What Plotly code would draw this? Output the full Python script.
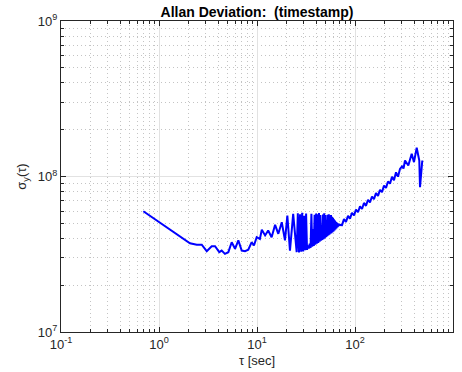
import plotly.graph_objects as go

# Averaging time tau [s]
tau = [
    0.692, 1.0, 1.4, 1.75, 2.07,
    2.43, 2.73, 3.07, 3.45, 3.73, 4.12, 4.36, 4.71, 5.10, 5.52, 5.97, 6.45, 6.98,
    7.55, 8.15, 8.83, 9.31, 9.93, 10.7, 11.2, 12.1, 13.0, 14.1, 15.3, 16.5, 17.9,
    19.3, 20.4, 21.7, 23.4, 25.4,
    26.1, 26.8, 27.5, 28.2, 28.9, 29.6, 30.3, 31.0, 31.7, 32.4, 33.1, 33.8, 34.5,
    35.2, 35.9, 36.6, 37.3, 38.0, 38.7, 39.4, 40.1, 40.8, 41.5, 42.2, 42.9, 43.6,
    44.3, 45.0, 45.7, 46.4, 47.1, 47.8, 48.5, 49.2, 49.9, 50.6, 51.3, 52.0, 52.7,
    53.4, 54.1, 54.8, 55.5, 56.2, 56.9, 57.6, 58.3, 59.0, 59.7, 60.4, 61.1, 61.8,
    62.5, 63.2, 63.9, 64.6, 65.3, 66.0, 66.7, 67.4, 68.1, 68.8, 69.5, 70.2,
    73.7, 77.2, 80.9, 84.9, 88.9, 93.2, 97.7, 102.4, 107.3, 112.5, 117.9, 123.5,
    129.5, 135.7, 142.2, 149.1, 156.2, 163.8, 171.7, 179.9, 188.6, 197.7, 207.2,
    217.2, 227.6, 238.6, 250.0, 262.1, 274.7, 287.9,
    301.8, 312.6, 323.8, 349.9, 378.9, 399.9, 426.2, 453.0, 460.6, 486.0,
]

# Allan deviation sigma_y(tau)
sigma = [
    5.98e7, 5.10e7, 4.41e7, 4.00e7, 3.72e7,
    3.64e7, 3.64e7, 3.31e7, 3.56e7, 3.56e7, 3.26e7, 3.34e7, 3.18e7, 3.26e7, 3.78e7, 3.43e7, 3.88e7, 3.34e7,
    3.31e7, 3.38e7, 3.78e7, 3.60e7, 4.07e7, 3.97e7, 4.54e7, 4.18e7, 4.50e7, 4.07e7, 4.89e7, 4.28e7, 5.08e7,
    3.88e7, 5.61e7, 3.34e7, 5.75e7, 3.26e7,
    5.80e7, 3.25e7, 5.72e7, 3.28e7, 5.85e7, 3.30e7, 5.60e7, 3.36e7, 5.78e7, 3.38e7, 3.60e7, 3.44e7, 3.70e7,
    3.47e7, 5.75e7, 3.53e7, 4.60e7, 3.58e7, 5.68e7, 3.64e7, 5.78e7, 3.70e7, 5.72e7, 3.74e7, 5.83e7, 3.80e7,
    5.66e7, 3.86e7, 4.90e7, 3.90e7, 5.70e7, 3.95e7, 5.80e7, 4.00e7, 5.65e7, 4.07e7, 5.20e7, 4.12e7, 5.68e7,
    4.18e7, 5.72e7, 4.22e7, 5.62e7, 4.28e7, 5.66e7, 4.32e7, 5.50e7, 4.38e7, 5.40e7, 4.43e7, 5.30e7, 4.50e7,
    5.20e7, 4.56e7, 5.12e7, 4.64e7, 5.05e7, 4.70e7, 5.00e7, 4.76e7, 4.97e7, 4.82e7, 4.93e7, 4.88e7,
    4.87e7, 5.32e7, 5.11e7, 5.58e7, 5.36e7, 5.85e7, 5.61e7, 6.13e7, 5.89e7, 6.43e7, 6.18e7, 6.76e7,
    6.48e7, 7.09e7, 6.81e7, 7.44e7, 7.15e7, 7.82e7, 7.50e7, 8.21e7, 7.94e7, 8.74e7, 8.45e7,
    9.29e7, 8.99e7, 9.95e7, 9.47e7, 1.063e8, 9.97e7, 1.12e8,
    1.160e8, 1.126e8, 1.267e8, 1.177e8, 1.400e8, 1.236e8, 1.530e8, 1.267e8, 8.54e7, 1.267e8,
]

x_tickvals = [0.1, 1, 10, 100, 1000]
x_ticktext = ["10<sup>-1</sup>", "10<sup>0</sup>", "10<sup>1</sup>", "10<sup>2</sup>", "10<sup>3</sup>"]
y_tickvals = [1e7, 1e8, 1e9]
y_ticktext = ["10<sup>7</sup>", "10<sup>8</sup>", "10<sup>9</sup>"]

minor_mult = [2, 3, 4, 5, 6, 7, 8, 9]
x_minor = [m * d for d in x_tickvals[:-1] for m in minor_mult]
y_minor = [m * d for d in y_tickvals[:-1] for m in minor_mult]

title_text = "<b>Allan Deviation:\u00a0 (timestamp)</b>"
x_label = "τ [sec]"
y_label = "σ<sub>y</sub>(τ)"

AX = "#262626"
FONT = "Liberation Sans, Arial, Helvetica, sans-serif"

fig = go.Figure()
fig.add_trace(go.Scatter(x=tau, y=sigma, mode="lines",
                         line=dict(color="#0000ff", width=2), showlegend=False))


def axis_style(minor_vals):
    return dict(
        type="log", automargin=False,
        showline=True, linecolor=AX, linewidth=1, mirror="allticks",
        ticks="inside", ticklen=5, tickcolor=AX, tickwidth=1,
        showgrid=True, gridcolor="#e2e2e2", gridwidth=1, zeroline=False,
        tickfont=dict(family=FONT, size=13, color=AX),
        minor=dict(tickmode="array", tickvals=minor_vals, ticks="inside", ticklen=3,
                   tickcolor=AX, showgrid=True, gridcolor="#c4c4c4",
                   griddash="1px,3px", gridwidth=1),
    )


fig.update_xaxes(range=[-1, 3], tickvals=x_tickvals, ticktext=x_ticktext, **axis_style(x_minor),
                 title=dict(text=x_label, font=dict(family=FONT, size=13, color=AX), standoff=5))
fig.update_yaxes(range=[7, 9], tickvals=y_tickvals, ticktext=y_ticktext, **axis_style(y_minor),
                 title=dict(text=y_label, font=dict(family=FONT, size=13, color=AX), standoff=8))

fig.update_layout(
    width=462, height=372,
    margin=dict(l=61, r=9, t=21, b=40),
    paper_bgcolor="white", plot_bgcolor="white",
    font=dict(family=FONT, size=13, color=AX),
    hovermode=False,
    title=dict(text=title_text, x=0.5, xref="paper", xanchor="center",
               y=1 - 12 / 372, yref="container", yanchor="middle",
               font=dict(family=FONT, size=14, color="#000000")),
)

fig.write_html("out.html", config={"displayModeBar": False, "staticPlot": True},
               post_script="document.body.style.margin='0';")
